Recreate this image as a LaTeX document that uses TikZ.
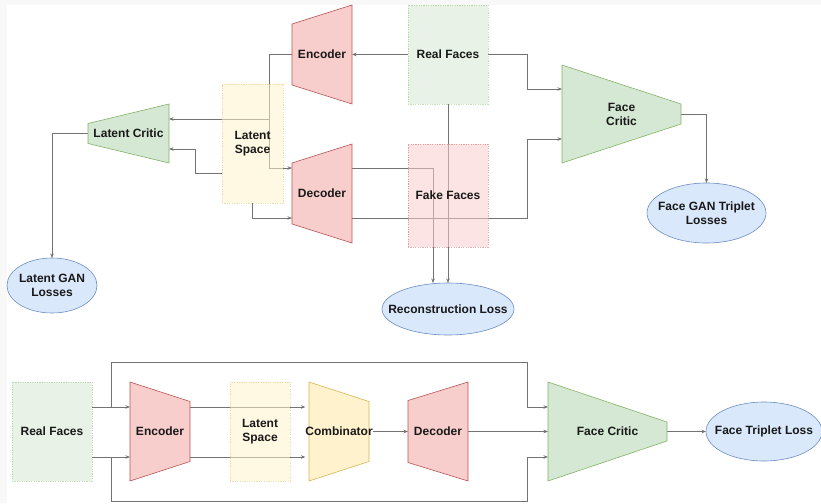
\documentclass[tikz,border=0pt]{standalone}
\usepackage{fontspec}
\setmainfont{Liberation Sans}
\usetikzlibrary{arrows.meta,shapes.geometric}
\pgfdeclarelayer{background}
\pgfsetlayers{background,main}

\definecolor{redfill}{HTML}{F8CECC}
\definecolor{redline}{HTML}{B85450}
\definecolor{greenfill}{HTML}{D5E8D4}
\definecolor{greenline}{HTML}{82B366}
\definecolor{yellowfill}{HTML}{FFF2CC}
\definecolor{yellowline}{HTML}{D6B656}
\definecolor{bluefill}{HTML}{DAE8FC}
\definecolor{blueline}{HTML}{6C8EBF}
\definecolor{canvasgray}{HTML}{F8F8F8}

% trapezoid block: style, name, x, y, half width (<0: wide side left), half tall side, half short side, text
\newcommand{\trapnode}[8]{%
    \draw[#1] ({#3+(#5)},{#4-(#6)}) -- ({#3+(#5)},{#4+(#6)}) -- ({#3-(#5)},{#4+(#7)}) -- ({#3-(#5)},{#4-(#7)}) -- cycle;
    \node[lbl, minimum width={2*abs(#5)}, minimum height={2*(#6)}] (#2) at (#3,#4) {#8};}

\begin{document}
\begin{tikzpicture}[
        x=1pt, y=-1pt,
        lbl/.style={inner sep=0pt, outer sep=0pt, align=center, text=black!90,
                font=\fontsize{12}{14}\selectfont\bfseries}, % text of every block
        redblk/.style={fill=redfill, draw=redline, line width=0.6pt},
        greenblk/.style={fill=greenfill, draw=greenline, line width=0.6pt},
        yellowblk/.style={fill=yellowfill, draw=yellowline, line width=0.6pt},
        dotbox/.style={lbl, line width=0.5pt, dash pattern=on 1.2pt off 1.2pt,
                fill opacity=0.55, draw opacity=0.45, text opacity=1},
        lossell/.style={lbl, ellipse, inner xsep=-30pt, fill=bluefill, draw=blueline, line width=0.6pt},
        link/.style={draw=black!55, line width=0.7pt},
        arr/.style={link, -{Stealth[length=4.5pt,width=3.5pt,fill=black!75]}},
    ]
    \useasboundingbox (0,0) rectangle (821,503);
    \begin{pgfonlayer}{background}
        \fill[canvasgray] (0,0) rectangle (821,5);
        \fill[canvasgray] (0,0) rectangle (7,503);
    \end{pgfonlayer}

    % upper diagram
    \trapnode{redblk}{encA}{322}{54.5}{30}{49.5}{30.5}{Encoder}
    \trapnode{redblk}{decA}{322}{193.5}{30}{49.5}{30.5}{Decoder}
    \trapnode{greenblk}{latcrit}{128.5}{133.5}{40.5}{29.5}{10}{Latent Critic}
    \trapnode{greenblk}{facecritA}{621.5}{114}{-59.5}{49}{10}{Face\\Critic}

    \node[dotbox, fill=greenfill, draw=greenline, minimum width=80pt, minimum height=99pt] (realA) at (448,54.5) {Real Faces};
    \node[dotbox, fill=redfill, draw=redline, minimum width=80pt, minimum height=103pt] (fakeA) at (448,195.5) {Fake Faces};
    \node[dotbox, fill=yellowfill, draw=yellowline, minimum width=61pt, minimum height=119pt] (latentA) at (252.5,143.5) {Latent\\Space};

    \node[lossell, minimum width=90pt, minimum height=55pt] (ganloss) at (52,285.5) {Latent GAN\\Losses};
    \node[lossell, minimum width=132pt, minimum height=52pt] (recloss) at (448,309) {Reconstruction Loss};
    \node[lossell, minimum width=119pt, minimum height=60pt] (tripgan) at (706.5,213) {Face GAN Triplet\\Losses};

    % lower diagram
    \trapnode{redblk}{encB}{160}{431.5}{-30}{49.5}{30}{Encoder}
    \trapnode{yellowblk}{comb}{339}{431.5}{-30}{49.5}{30}{Combinator}
    \trapnode{redblk}{decB}{438}{431.5}{30}{49.5}{31}{Decoder}
    \trapnode{greenblk}{facecritB}{607.5}{431.5}{-59.5}{49.5}{9.5}{Face Critic}

    \node[dotbox, fill=greenfill, draw=greenline, minimum width=80pt, minimum height=99pt] (realB) at (52,431.5) {Real Faces};
    \node[dotbox, fill=yellowfill, draw=yellowline, minimum width=60pt, minimum height=99pt] (latentB) at (260,431.5) {Latent\\Space};

    \node[lossell, minimum width=116pt, minimum height=59pt] (triploss) at (764,431.5) {Face Triplet Loss};

    \begin{pgfonlayer}{background}
        % upper connectors
        \draw[arr] (realA.west) -- (encA.east);
        \draw[arr] (realA.east) -- ++(39,0) |- ([yshift=25pt]facecritA.west);
        \draw[arr] ([yshift=-24.5pt]decA.east) -- ++(175,0) |- ([yshift=-25pt]facecritA.west);
        \draw[arr] (facecritA.east) -| (tripgan.north);
        \draw[arr] (encA.west) -- ++(-23,0) |- ([yshift=25.5pt]decA.west);
        \draw[arr] (encA.west) -- ++(-23,0) |- ([yshift=14.5pt]latcrit.east);
        \draw[arr] ([yshift=-29.5pt]latentA.west) -- ++(-27,0) |- ([yshift=-15.5pt]latcrit.east);
        \draw[arr] (latentA.south) |- ([yshift=-24.5pt]decA.west);
        \draw[arr] (latcrit.west) -| (ganloss.north);
        \draw[arr] ([yshift=25.5pt]decA.east) -| ([xshift=-15pt]recloss.north);
        \draw[arr] (realA.south) -- (recloss.north);
        % lower connectors
        \draw[arr] ([yshift=24.5pt]realB.east) -- ([yshift=24.5pt]encB.west);
        \draw[arr] ([yshift=-25.5pt]realB.east) -- ([yshift=-25.5pt]encB.west);
        \draw[arr] ([xshift=19pt,yshift=24.5pt]realB.east) -- ++(0,-45) -| ++(416,45) -- ([yshift=24.5pt]facecritB.west);
        \draw[arr] ([xshift=19pt,yshift=-25.5pt]realB.east) -- ++(0,44) -| ++(416,-44) -- ([yshift=-25.5pt]facecritB.west);
        \draw[arr] ([yshift=24.5pt]encB.east) -- ([yshift=24.5pt]comb.west);
        \draw[arr] ([yshift=-25.5pt]encB.east) -- ([yshift=-25.5pt]comb.west);
        \draw[arr] (comb.east) -- (decB.west);
        \draw[arr] (decB.east) -- (facecritB.west);
        \draw[arr] (facecritB.east) -- (triploss.west);
    \end{pgfonlayer}
\end{tikzpicture}
\end{document}
